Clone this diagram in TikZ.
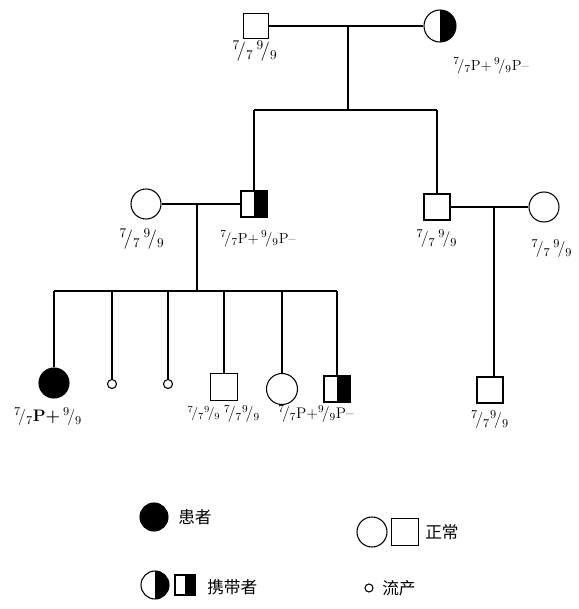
\documentclass[tikz,border=0pt]{standalone}
\usepackage{fontspec}
\newfontfamily\cjk{Noto Sans CJK SC}
\newcommand{\gfr}[2]{$^{#1}\!/_{#2}$}
\newcommand{\fsz}[1]{\fontsize{#1}{#1}\selectfont}
\begin{document}
\begin{tikzpicture}[x=0.75pt,y=-0.75pt,
  line/.style={line width=0.8pt},
  male/.style={draw, line width=0.8pt, rectangle, minimum size=#1*0.75pt, inner sep=0pt},
  male/.default=26,
  female/.style={draw, line width=0.8pt, circle, minimum size=#1*0.75pt, inner sep=0pt},
  female/.default=30,
  carrier/.style={path picture={\fill[black] (path picture bounding box.north) rectangle (path picture bounding box.south east);}},
  affected/.style={fill=black},
  lbl/.style={inner sep=0pt, font=\fsz{10}},
  leg/.style={inner sep=0pt, anchor=west, font=\cjk\fsz{12.5}}]
\useasboundingbox (0,0) rectangle (578,609);
% Generation I
\node[male=25] (I1) at (256,26) {};
\node[female=32, carrier] (I2) at (440,26) {};
\draw[line] (I1.east) -- (I2.west);
\coordinate (m1) at (348,26);
\coordinate (s1) at (348,110);
\draw[line] (m1) -- (s1);
% Generation II
\node[female=30] (II1) at (146,204) {};
\node[male=26, carrier] (II2) at (254,204) {};
\node[male=26] (II3) at (437,207) {};
\node[female=30] (II4) at (544,207) {};
\draw[line] (II2.north |- s1) -- (II3.north |- s1);
\draw[line] (II2.north |- s1) -- (II2.north);
\draw[line] (II3.north |- s1) -- (II3.north);
\draw[line] (II1.east) -- (II2.west);
\draw[line] (II3.east) -- (II4.west);
\coordinate (m2) at (197,204);
\coordinate (s2) at (197,291);
\draw[line] (m2) -- (s2);
\coordinate (m3) at (494,207);
% Generation III
\node[female=30, affected] (III1) at (54,383) {};
\node[female=9] (III2) at (112,384) {};
\node[female=9] (III3) at (168,384) {};
\node[male=27] (III4) at (224,387) {};
\node[female=31] (III5) at (282,389) {};
\node[male=26, carrier] (III6) at (337,389) {};
\node[male=26] (III7) at (490,390) {};
\draw[line] (III1.north |- s2) -- (III6.north |- s2);
\foreach \c in {III1,III2,III3,III4,III5,III6}
  \draw[line] (\c.north |- s2) -- (\c.north);
\draw[line] (m3) -- (m3 |- III7.north);
% Labels
\node[lbl, font=\fsz{14}] (tI1) at (255,51) {\gfr{7}{7}\,\gfr{9}{9}};
\node[lbl, font=\fsz{11}] (tI2) at (491,66) {\gfr{7}{7}P+\,\gfr{9}{9}P\textendash};
\node[lbl, font=\fsz{14}\bfseries] (tII1) at (142,239) {\gfr{7}{7}\,\gfr{9}{9}};
\node[lbl, font=\fsz{11}] (tII2) at (258,239) {\gfr{7}{7}P+\,\gfr{9}{9}P\textendash};
\node[lbl, font=\fsz{13}] (tII3) at (437,239) {\gfr{7}{7}\,\gfr{9}{9}};
\node[lbl, font=\fsz{13}] (tII4) at (552,249) {\gfr{7}{7}\,\gfr{9}{9}};
\node[lbl, font=\fsz{12.5}\bfseries] (tIII1) at (48,417) {\gfr{7}{7}P+\,\gfr{9}{9}};
\node[lbl, font=\fsz{10}] (tIII4) at (204,414) {\gfr{7}{7}\gfr{9}{9}};
\node[lbl, font=\fsz{11.5}] (tIII5) at (242,414) {\gfr{7}{7}\gfr{9}{9}};
\node[lbl, font=\fsz{11.5}] (tIII6) at (316,414) {\gfr{7}{7}P+\gfr{9}{9}P\textendash};
\node[lbl, font=\fsz{12.5}\bfseries] (tIII7) at (490,420) {\gfr{7}{7}\gfr{9}{9}};
% Legend
\node[female=28, affected] (L1) at (154,517) {};
\node[leg] (L1t) at (178,517) {患者};
\node[female=30] (L2a) at (372,532) {};
\node[male=27] (L2b) at (405,532) {};
\node[leg] (L2t) at (425,532) {正常};
\node[female=28, carrier] (L3a) at (155,585) {};
\node[male=20, carrier] (L3b) at (185,585) {};
\node[leg] (L3t) at (207,587) {携带者};
\node[female=8] (L4) at (369,588) {};
\node[leg] (L4t) at (382,588) {流产};
\end{tikzpicture}
\end{document}
